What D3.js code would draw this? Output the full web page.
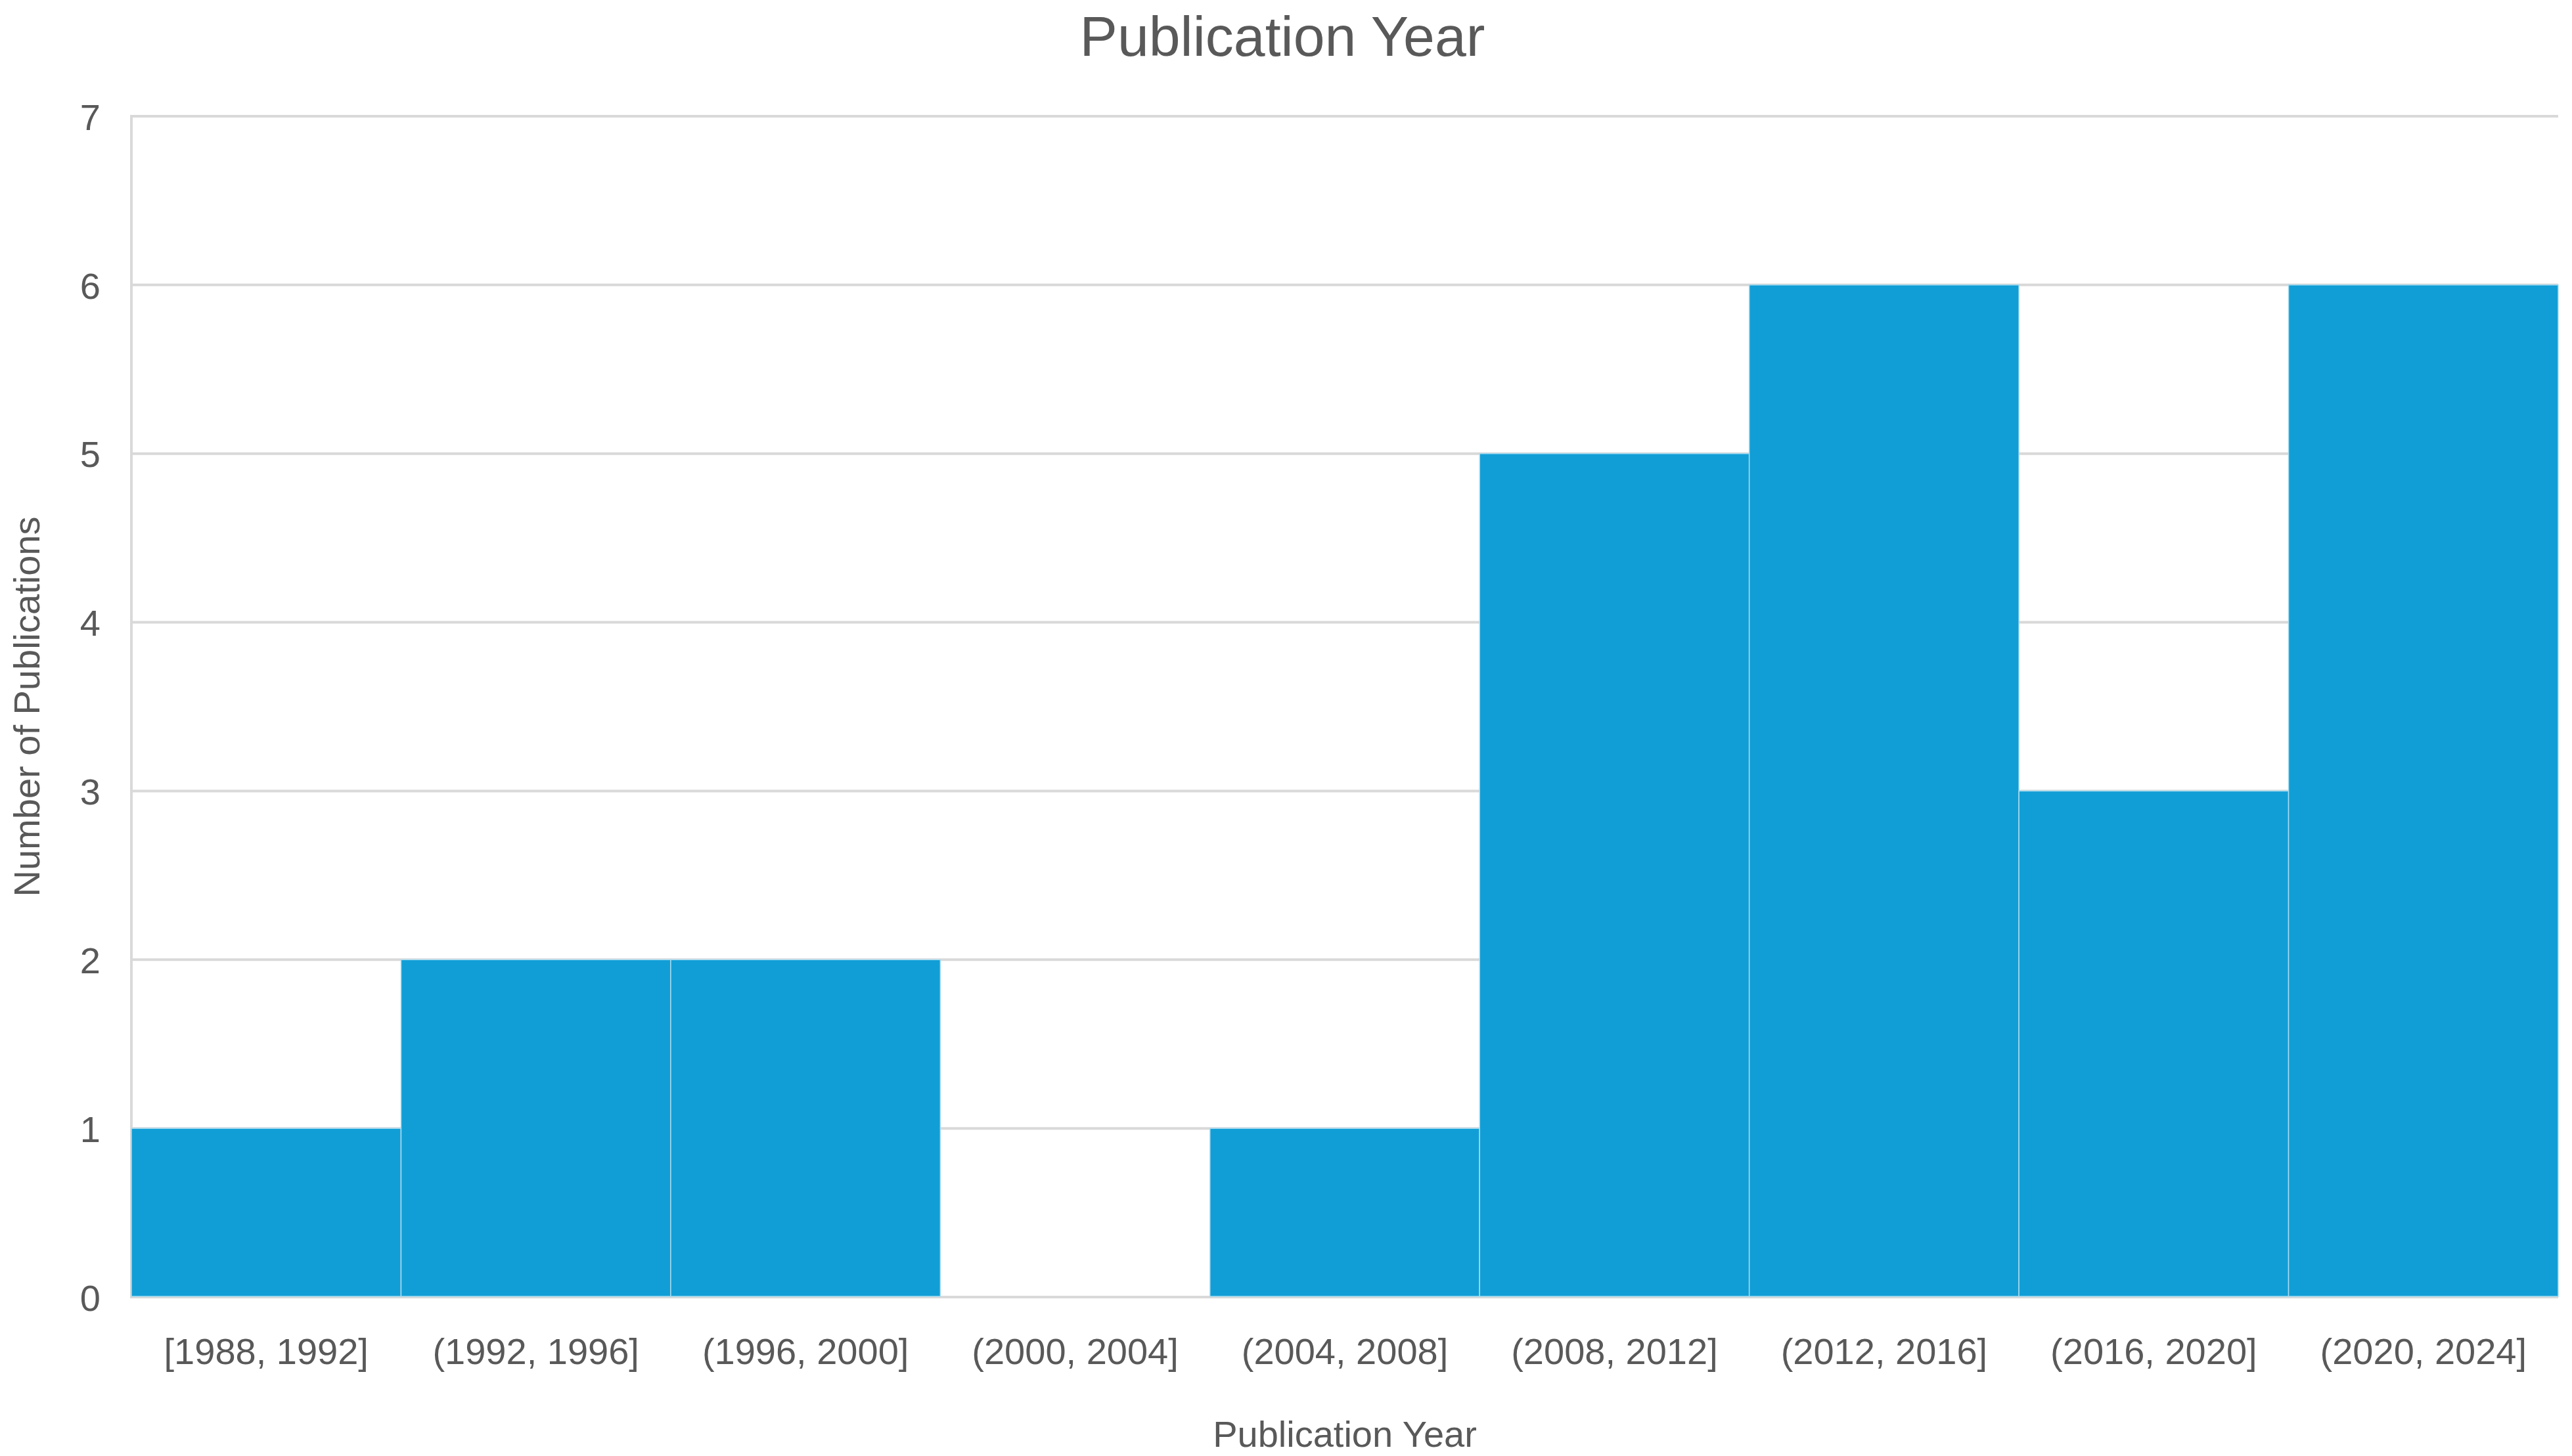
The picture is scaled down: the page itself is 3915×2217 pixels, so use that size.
<!DOCTYPE html>
<html>
<head>
<meta charset="utf-8">
<script src="https://cdn.jsdelivr.net/npm/d3@7"></script>
<style>
html,body{margin:0;padding:0;background:#fff;}
svg{display:block;}
</style>
</head>
<body>
<svg id="chart" width="3915" height="2217"></svg>
<script>
const categories = ["[1988, 1992]","(1992, 1996]","(1996, 2000]","(2000, 2004]","(2004, 2008]","(2008, 2012]","(2012, 2016]","(2016, 2020]","(2020, 2024]"];
const counts = [1, 2, 2, 0, 1, 5, 6, 3, 6];
const yTicks = [0, 1, 2, 3, 4, 5, 6, 7];
const chartTitle = "Publication Year";
const xTitle = "Publication Year";
const yTitle = "Number of Publications";

const W = 3915, H = 2217;
const margin = {left: 200, right: 21, top: 177, bottom: 242};
const svg = d3.select("#chart");
const font = "'Liberation Sans', Arial, sans-serif";
const textColor = "#595959";

const x = d3.scaleBand().domain(categories).range([margin.left, W - margin.right]).padding(0);
const y = d3.scaleLinear().domain([0, 7]).range([H - margin.bottom, margin.top]);

// gridlines
const grid = svg.append("g");
grid.selectAll("line.h").data(yTicks).enter().append("line")
  .attr("x1", margin.left).attr("x2", W - margin.right)
  .attr("y1", d => y(d)).attr("y2", d => y(d))
  .attr("stroke", "#d9d9d9").attr("stroke-width", 4);
grid.append("line")
  .attr("x1", margin.left).attr("x2", margin.left)
  .attr("y1", y(7) - 2).attr("y2", y(0) + 2)
  .attr("stroke", "#d9d9d9").attr("stroke-width", 4);

// bars
svg.append("g").selectAll("rect").data(categories.map((c, i) => ({c, v: counts[i]})).filter(d => d.v > 0))
  .enter().append("rect")
  .attr("x", d => x(d.c))
  .attr("y", d => y(d.v))
  .attr("width", x.bandwidth())
  .attr("height", d => y(0) - y(d.v) - 1)
  .attr("fill", "#119ed6")
  .attr("stroke", "#a9dcf0")
  .attr("stroke-width", 1.5);

// y axis
const yAxis = d3.axisLeft(y).tickValues(yTicks).tickSize(0).tickPadding(47).tickFormat(d3.format("d"));
const gy = svg.append("g").attr("transform", `translate(${margin.left},0)`).call(yAxis);
gy.select(".domain").remove();
gy.selectAll("text").attr("font-family", font).attr("font-size", 56).attr("fill", textColor).attr("dy", "0.36em");

// x axis
const xAxis = d3.axisBottom(x).tickSize(0).tickPadding(62);
const gx = svg.append("g").attr("transform", `translate(0,${y(0)})`).call(xAxis);
gx.select(".domain").remove();
gx.selectAll("text").attr("font-family", font).attr("font-size", 56).attr("fill", textColor).attr("dy", "0.71em");

// title
svg.append("text").attr("x", 1952).attr("y", 85).attr("text-anchor", "middle")
  .attr("font-family", font).attr("font-size", 86).attr("fill", textColor).text(chartTitle);

// x title
svg.append("text").attr("x", (margin.left + W - margin.right) / 2).attr("y", 2203).attr("text-anchor", "middle")
  .attr("font-family", font).attr("font-size", 56).attr("fill", textColor).text(xTitle);

// y title
svg.append("text").attr("transform", `translate(60,${(y(0) + y(7)) / 2}) rotate(-90)`).attr("text-anchor", "middle")
  .attr("font-family", font).attr("font-size", 56).attr("fill", textColor).text(yTitle);
</script>
</body>
</html>
